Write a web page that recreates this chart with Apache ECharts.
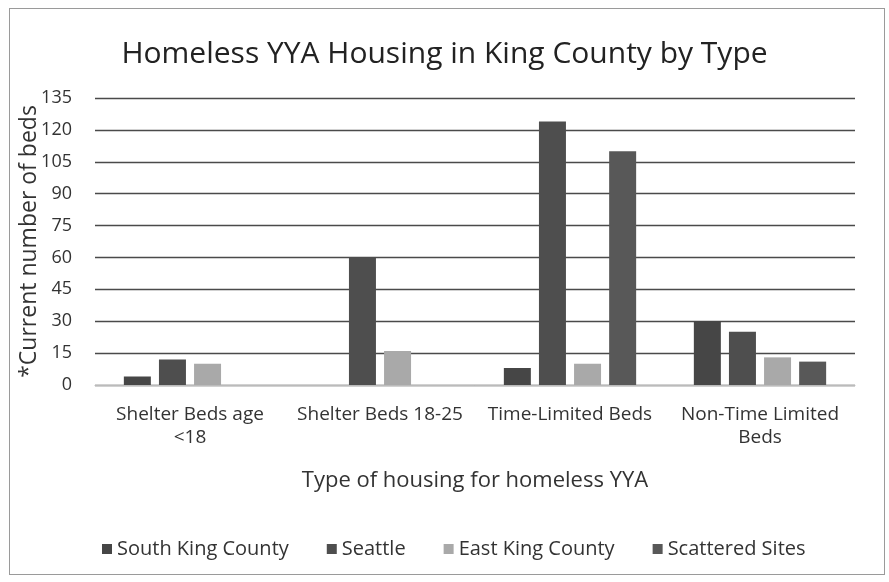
<!DOCTYPE html>
<html>
<head>
<meta charset="utf-8">
<script src="https://cdn.jsdelivr.net/npm/echarts@6/dist/echarts.min.js"></script>
<style>
html,body{margin:0;padding:0;background:#fff;}
#frame{position:absolute;left:9px;top:8px;width:876px;height:567px;border:1px solid #9a9a9a;box-sizing:border-box;}
#chart{position:absolute;left:0;top:0;width:889px;height:582px;}
</style>
</head>
<body>
<div id="frame"></div>
<div id="chart"></div>
<script>
const categories = ['Shelter Beds age\n<18', 'Shelter Beds 18-25', 'Time-Limited Beds', 'Non-Time Limited\nBeds'];
const southKing = [4, 0, 8, 30];
const seattle = [12, 60, 124, 25];
const eastKing = [10, 16, 10, 13];
const scattered = [0, 0, 110, 11];
const seriesNames = ['South King County', 'Seattle', 'East King County', 'Scattered Sites'];
const colors = ['#464646', '#4e4e4e', '#a9a9a9', '#585858'];
const font = 'Open Sans';

const chart = echarts.init(document.getElementById('chart'), null, {renderer: 'canvas'});
const dataSets = [southKing, seattle, eastKing, scattered];
chart.setOption({
  backgroundColor: 'transparent',
  animation: false,
  title: {
    text: 'Homeless YYA Housing in King County by Type',
    left: 'center', top: 34,
    textStyle: {fontFamily: font, fontSize: 30, fontWeight: 'normal', color: '#222'}
  },
  legend: {
    bottom: 18, left: 97,
    itemWidth: 10, itemHeight: 10, itemGap: 38,
    icon: 'rect',
    textStyle: {fontFamily: font, fontSize: 20, color: '#333'},
    data: seriesNames
  },
  grid: {left: 95, right: 34, top: 98, bottom: 197, containLabel: false},
  xAxis: {
    type: 'category',
    data: categories,
    name: 'Type of housing for homeless YYA',
    nameLocation: 'middle', nameGap: 85,
    nameMoveOverlap: false,
    nameTextStyle: {fontFamily: font, fontSize: 22, color: '#333'},
    axisLine: {show: true, lineStyle: {color: '#bbb', width: 1}},
    axisTick: {show: false},
    axisLabel: {fontFamily: font, fontSize: 19, color: '#333', margin: 18, lineHeight: 23, interval: 0}
  },
  yAxis: {
    type: 'value', min: 0, max: 135, interval: 15,
    name: '*Current number of beds',
    nameLocation: 'middle', nameGap: 54, nameRotate: 90,
    nameMoveOverlap: false,
    nameTextStyle: {fontFamily: font, fontSize: 23, color: '#333'},
    axisLine: {show: false}, axisTick: {show: false},
    axisLabel: {fontFamily: font, fontSize: 18, color: '#333', margin: 23},
    splitLine: {lineStyle: {color: '#4a4a4a', width: 1.4}}
  },
  series: dataSets.map((d, i) => ({
    name: seriesNames[i],
    type: 'bar',
    data: d,
    barWidth: 27,
    barGap: '30%',
    itemStyle: {color: colors[i]}
  }))
});
</script>
</body>
</html>
